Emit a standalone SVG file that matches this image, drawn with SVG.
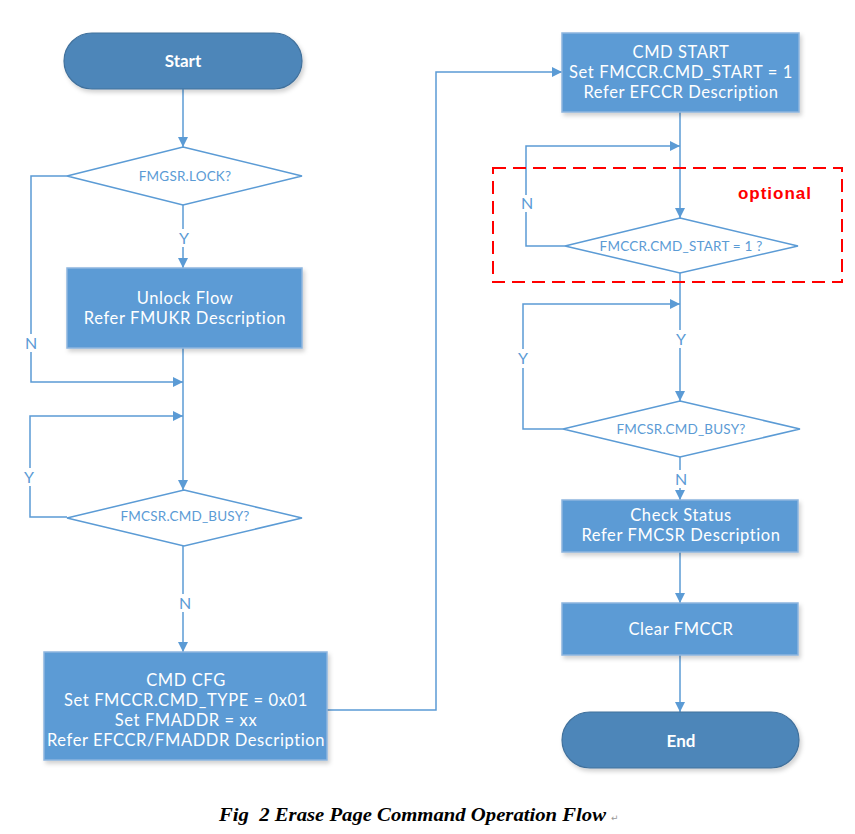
<svg xmlns="http://www.w3.org/2000/svg" width="855" height="834" viewBox="0 0 855 834">
<defs>
<marker id="ah" viewBox="0 0 10 10" refX="10" refY="5" markerWidth="10" markerHeight="10" markerUnits="userSpaceOnUse" orient="auto">
<path d="M0,0 L10,5 L0,10 z" fill="#5B9BD5"/>
</marker>
<filter id="sh" x="-10%" y="-10%" width="130%" height="140%">
<feDropShadow dx="2" dy="3" stdDeviation="2" flood-color="#000" flood-opacity="0.18"/>
</filter>
</defs>
<style>
.box{fill:#5B9BD5;stroke:#8DB5DE;stroke-width:1.5;filter:url(#sh)}
.pill{fill:#4E86B9;stroke:#41719C;stroke-width:1.2;filter:url(#sh)}
.dia{fill:#fff;stroke:#5B9BD5;stroke-width:1.5}
.bt{font-family:Lato,"Open Sans",sans-serif;font-size:16.5px;letter-spacing:0.6px;fill:#fff;text-anchor:middle}
.pt{font-family:Lato,"Open Sans",sans-serif;font-size:17px;font-weight:bold;fill:#fff;text-anchor:middle}
.dt{font-family:Lato,"Open Sans",sans-serif;font-size:13.5px;letter-spacing:0.2px;fill:#5B9BD5;text-anchor:middle}
.lb{font-family:Lato,"Open Sans",sans-serif;font-size:16px;fill:#5B9BD5;text-anchor:middle}
.cn{fill:none;stroke:#5B9BD5;stroke-width:1.5}
</style>
<rect width="855" height="834" fill="#fff"/>
<g id="connectors">
<line class="cn" x1="183" y1="89" x2="183" y2="147" marker-end="url(#ah)"/>
<line class="cn" x1="183" y1="205" x2="183" y2="229"/>
<line class="cn" x1="183" y1="247" x2="183" y2="268" marker-end="url(#ah)"/>
<polyline class="cn" points="67,176 31,176 31,334"/>
<polyline class="cn" points="31,352 31,382 183,382" marker-end="url(#ah)"/>
<line class="cn" x1="183" y1="348" x2="183" y2="490" marker-end="url(#ah)"/>
<polyline class="cn" points="67,517 30,517 30,486"/>
<polyline class="cn" points="30,468 30,416 183,416" marker-end="url(#ah)"/>
<line class="cn" x1="183" y1="546" x2="183" y2="594"/>
<line class="cn" x1="183" y1="612" x2="183" y2="652" marker-end="url(#ah)"/>
<polyline class="cn" points="327,710 436,710 436,72 562,72" marker-end="url(#ah)"/>
<line class="cn" x1="680" y1="112" x2="680" y2="218" marker-end="url(#ah)"/>
<polyline class="cn" points="565,246 526,246 526,212"/>
<polyline class="cn" points="526,195 526,146 680,146" marker-end="url(#ah)"/>
<line class="cn" x1="680" y1="273" x2="680" y2="330"/>
<line class="cn" x1="680" y1="348" x2="680" y2="401" marker-end="url(#ah)"/>
<polyline class="cn" points="563,429 523,429 523,368"/>
<polyline class="cn" points="523,349 523,304 680,304" marker-end="url(#ah)"/>
<line class="cn" x1="680" y1="457" x2="680" y2="470"/>
<line class="cn" x1="680" y1="488" x2="680" y2="500" marker-end="url(#ah)"/>
<line class="cn" x1="680" y1="552" x2="680" y2="603" marker-end="url(#ah)"/>
<line class="cn" x1="680" y1="655" x2="680" y2="712" marker-end="url(#ah)"/>
<text class="lb" x="184" y="244">Y</text>
<text class="lb" x="31" y="349">N</text>
<text class="lb" x="29" y="483">Y</text>
<text class="lb" x="185" y="609">N</text>
<text class="lb" x="527" y="209">N</text>
<text class="lb" x="681" y="345">Y</text>
<text class="lb" x="523" y="364">Y</text>
<text class="lb" x="681" y="485">N</text>
</g>
<g id="optional">
<rect x="493" y="168" width="349" height="114" fill="none" stroke="#FF0000" stroke-width="2" stroke-dasharray="13,7"/>
<text x="812" y="199" font-family="Liberation Sans,Arial,sans-serif" font-size="17" font-weight="bold" letter-spacing="1" fill="#FF0000" text-anchor="end">optional</text>
</g>
<g id="start">
<rect class="pill" x="64" y="33" width="238" height="56" rx="28"/>
<text class="pt" x="183" y="67">Start</text>
</g>
<g id="lock">
<polygon class="dia" points="183,147 302,176 183,205 67,176"/>
<text class="dt" x="185" y="181">FMGSR.LOCK?</text>
</g>
<g id="unlock">
<rect class="box" x="67" y="268" width="235" height="80"/>
<text class="bt" x="185" y="304">Unlock Flow</text>
<text class="bt" x="185" y="324">Refer FMUKR Description</text>
</g>
<g id="busy1">
<polygon class="dia" points="184,490 302,518 184,546 67,518"/>
<text class="dt" x="185" y="521" font-size="9.5">FMCSR.CMD_BUSY?</text>
</g>
<g id="cmdcfg">
<rect class="box" x="44" y="652" width="283" height="108"/>
<text class="bt" x="186" y="686">CMD CFG</text>
<text class="bt" x="186" y="706">Set FMCCR.CMD_TYPE = 0x01</text>
<text class="bt" x="186" y="726">Set FMADDR = xx</text>
<text class="bt" x="186" y="746">Refer EFCCR/FMADDR Description</text>
</g>
<g id="cmdstart">
<rect class="box" x="562" y="33" width="237" height="79"/>
<text class="bt" x="681" y="58">CMD START</text>
<text class="bt" x="681" y="78">Set FMCCR.CMD_START = 1</text>
<text class="bt" x="681" y="98">Refer EFCCR Description</text>
</g>
<g id="startcheck">
<polygon class="dia" points="680,218 798,246 680,273 565,246"/>
<text class="dt" x="681" y="251">FMCCR.CMD_START = 1 ?</text>
</g>
<g id="busy2">
<polygon class="dia" points="680,401 800,429 680,457 563,429"/>
<text class="dt" x="681" y="434">FMCSR.CMD_BUSY?</text>
</g>
<g id="check">
<rect class="box" x="562" y="500" width="236" height="52"/>
<text class="bt" x="681" y="521">Check Status</text>
<text class="bt" x="681" y="541">Refer FMCSR Description</text>
</g>
<g id="clear">
<rect class="box" x="562" y="603" width="236" height="52"/>
<text class="bt" x="681" y="635">Clear FMCCR</text>
</g>
<g id="end">
<rect class="pill" x="562" y="712" width="237" height="56" rx="28"/>
<text class="pt" x="681" y="747">End</text>
</g>
<g id="caption">
<text x="219" y="821" font-family="Liberation Serif,serif" font-size="18" font-weight="bold" font-style="italic" fill="#000" textLength="387" lengthAdjust="spacingAndGlyphs" xml:space="preserve">Fig  2 Erase Page Command Operation Flow</text>
<text x="611" y="821" font-family="DejaVu Sans,sans-serif" font-size="9" fill="#999">↵</text>
</g>
</svg>
